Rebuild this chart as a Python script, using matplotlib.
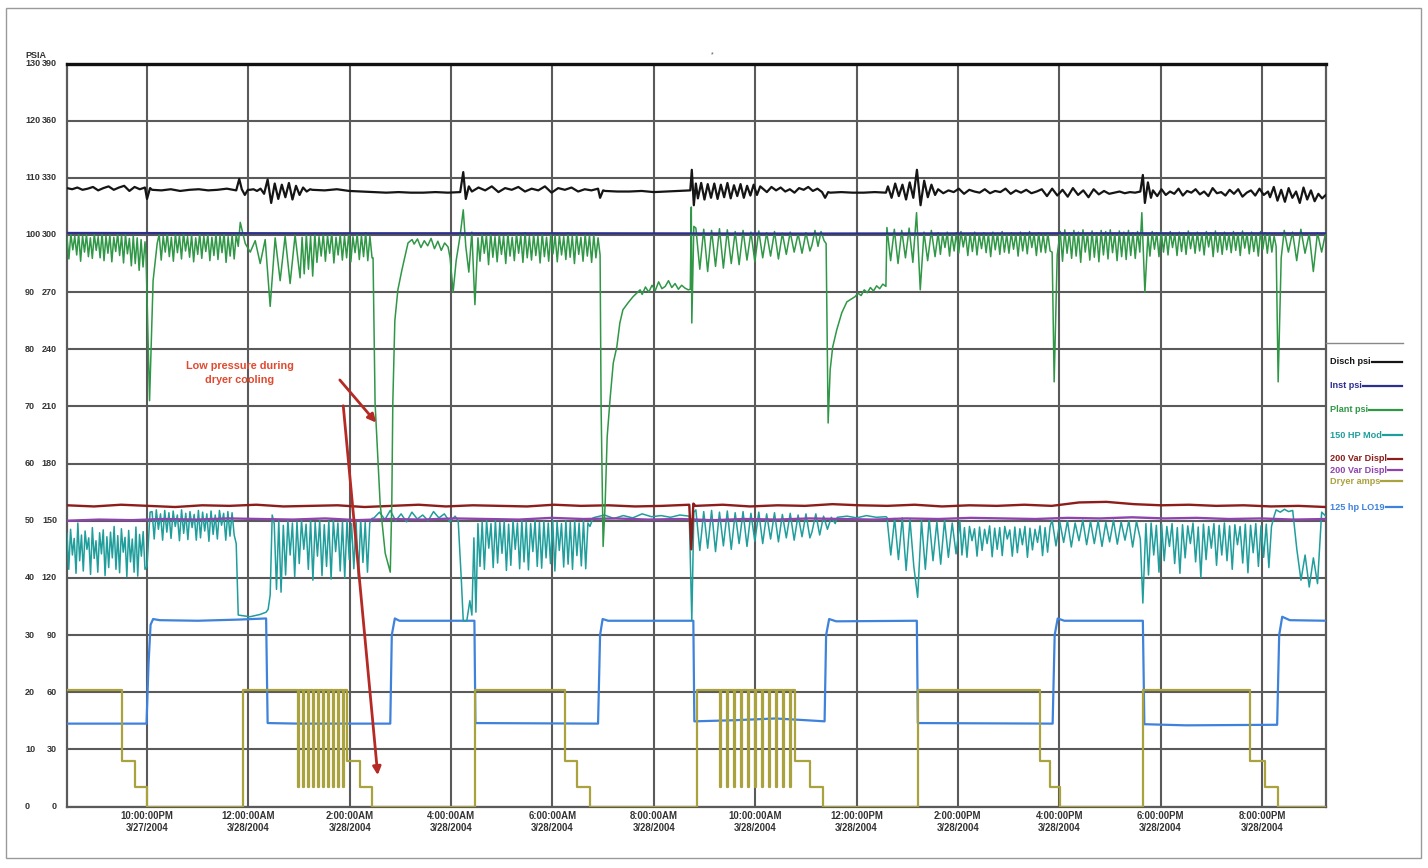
import numpy as np
import matplotlib
matplotlib.use("Agg")
import matplotlib.pyplot as plt
from matplotlib.transforms import blended_transform_factory
from matplotlib.patches import Rectangle
from matplotlib.lines import Line2D

plt.rcParams['font.family'] = ['Liberation Sans', 'DejaVu Sans']

# ---------------------------------------------------------------
# DATA  (time = hours after 8:00 PM 3/27/2004, values in psi / amps)
# a segment is either (t_start, t_end, [evenly sampled values])
# or ([times], [values]) for irregular points
# ---------------------------------------------------------------
x_ticks = [2, 4, 6, 8, 10, 12, 14, 16, 18, 20, 22, 24]
x_labels = ["10:00:00PM\n3/27/2004", "12:00:00AM\n3/28/2004", "2:00:00AM\n3/28/2004",
            "4:00:00AM\n3/28/2004", "6:00:00AM\n3/28/2004", "8:00:00AM\n3/28/2004",
            "10:00:00AM\n3/28/2004", "12:00:00PM\n3/28/2004", "2:00:00PM\n3/28/2004",
            "4:00:00PM\n3/28/2004", "6:00:00PM\n3/28/2004", "8:00:00PM\n3/28/2004"]
psi_ticks = [0, 10, 20, 30, 40, 50, 60, 70, 80, 90, 100, 110, 120, 130]
amp_ticks = [0, 30, 60, 90, 120, 150, 180, 210, 240, 270, 300, 330, 360, 390]

legend_names = ["Disch psi", "Inst psi", "Plant psi", "150 HP Mod",
                "200 Var Displ", "200 Var Displ", "Dryer amps", "125 hp LO19"]

disch_psi = [
    (0.42, 1.96, [108.2, 108.0, 108.3, 107.9, 108.1, 108.4, 107.8, 108.2, 108.5, 107.9,
                  108.3, 108.6, 107.7, 108.4, 108.0, 108.3]),
    ([2.00, 2.06], [106.3, 108.2]),
    (2.10, 3.76, [107.9, 107.8, 108.0, 107.7, 107.9, 108.0, 107.8, 107.9, 108.1, 107.8]),
    ([3.82, 3.87, 3.93, 3.99], [109.8, 108.0, 107.0, 107.9]),
    (4.03, 5.22, [107.9, 108.0, 107.7, 108.1, 107.2, 109.7, 105.6, 109.0, 106.3, 108.8,
                  106.6, 109.1, 106.2, 108.6, 107.0, 108.3, 107.6, 108.0]),
    (5.26, 8.18, [107.9, 107.8, 108.0, 107.7, 107.6, 107.5, 107.4, 107.5, 107.4, 107.4,
                  107.5, 107.4, 107.5]),
    ([8.24, 8.29, 8.35], [111.0, 106.3, 108.5]),
    (8.41, 10.90, [107.6, 108.3, 107.8, 108.5, 107.5, 108.2, 107.9, 108.4, 107.6, 108.1,
                   107.8, 108.5, 107.4, 108.2, 107.9, 108.3, 107.6, 108.0, 107.8, 108.1]),
    ([10.94, 11.00], [106.5, 107.8]),
    (11.04, 12.72, [107.7, 107.6, 107.6, 107.7, 107.5, 107.6, 107.7, 107.8]),
    ([12.75, 12.79, 12.83], [111.4, 105.2, 109.0]),
    (12.87, 14.10, [106.4, 109.1, 106.2, 108.9, 106.5, 109.0, 106.3, 108.8, 106.6, 109.1,
                    106.4, 108.7, 106.8, 108.9, 106.5, 108.6, 106.9, 108.8, 107.0, 108.5]),
    (14.14, 15.32, [108.2, 107.5, 108.4, 107.8, 108.3, 107.6, 108.0, 107.4, 108.2, 107.9,
                    108.4, 107.7, 108.1, 107.5]),
    ([15.38, 15.44], [106.5, 107.5]),
    (15.48, 16.58, [107.4, 107.5, 107.4, 107.4, 107.5, 107.4]),
    (16.62, 17.55, [108.5, 106.5, 109.0, 106.8, 108.8, 106.2, 109.2, 106.5, 111.4, 105.2,
                    109.5, 106.6, 108.8, 107.0]),
    (17.61, 21.60, [108.0, 107.3, 107.8, 107.5, 108.1, 107.2, 107.9, 107.6, 107.4, 108.0,
                    107.3, 107.7, 107.5, 108.1, 107.2, 107.8, 107.4, 107.9, 107.3, 107.6,
                    108.0, 106.8, 108.1, 106.9, 107.9, 106.7, 108.2, 107.0, 107.8, 106.6,
                    108.0, 107.1, 107.7, 107.2, 107.4, 107.6, 107.3, 107.5, 107.4, 107.6]),
    ([21.65, 21.69, 21.75, 21.81], [110.5, 105.6, 109.2, 106.5]),
    (21.85, 24.12, [107.8, 106.8, 108.0, 107.0, 107.6, 107.2, 108.1, 106.9, 107.7, 107.4,
                    108.0, 107.1, 107.6, 106.8, 108.2, 107.3, 107.5, 106.9, 107.9, 107.2,
                    108.0, 106.7, 107.4, 107.8, 106.9, 108.1, 107.0, 107.6]),
    (24.16, 25.26, [106.6, 108.4, 106.0, 107.9, 105.8, 108.2, 106.5, 107.6, 105.6, 108.3,
                    106.2, 107.8, 105.9, 107.2, 106.4, 107.0]),
]

inst_psi = [
    ([0.42, 5.0, 10.0, 15.0, 20.0, 25.26], [100.35, 100.3, 100.3, 100.25, 100.3, 100.3]),
]

plant_psi = [
    (0.42, 1.96, [99.6, 95.8, 100.2, 97.4, 99.8, 96.5, 100.3, 95.4, 99.9, 97.0, 100.1, 96.2,
                  99.5, 95.9, 100.2, 97.3, 99.7, 96.0, 100.4, 95.5, 99.8, 96.8, 100.0, 95.3,
                  99.6, 97.1, 100.3, 96.4, 99.9, 95.1, 100.1, 96.7, 99.4, 94.6, 99.8, 95.0,
                  99.5, 93.8, 99.2, 94.4, 98.8]),
    ([1.98, 2.05, 2.12, 2.20], [96.5, 71.0, 92.0, 98.5]),
    (2.24, 3.80, [100.1, 95.6, 99.8, 97.0, 100.3, 96.2, 99.6, 95.4, 100.2, 96.9, 99.9, 95.8,
                  100.4, 97.2, 99.7, 96.1, 100.0, 95.3, 99.5, 96.6, 100.3, 95.9, 99.8, 97.1,
                  100.1, 95.5, 99.6, 96.4, 100.2, 95.7, 99.9, 96.9, 100.4, 95.2, 99.7, 96.3,
                  100.0, 95.8, 100.1, 98.0]),
    (3.84, 5.02, [102.2, 98.5, 97.0, 99.0, 95.0, 99.2, 87.5, 99.5, 92.0, 99.8, 91.5, 100.0, 92.5]),
    (5.06, 6.44, [99.6, 93.2, 100.1, 94.0, 99.8, 92.8, 100.3, 95.2, 99.7, 96.3, 100.2, 95.4,
                  99.9, 96.8, 100.4, 95.1, 99.6, 96.5, 100.1, 95.6, 99.8, 96.0, 100.3, 95.3,
                  99.7, 96.9, 100.2, 95.7, 99.9, 96.2, 100.4, 95.5, 99.8, 96.0]),
    ([6.46, 6.50, 6.60, 6.70, 6.80, 6.83, 6.85, 6.89, 6.95, 7.03, 7.15, 7.23],
     [96.0, 70.6, 53.0, 44.3, 41.0, 53.0, 70.6, 85.0, 90.4, 93.9, 98.6, 99.2]),
    (7.27, 7.94, [98.4, 99.3, 97.8, 99.0, 98.1, 99.4, 97.6, 98.9, 97.3, 98.6, 97.9]),
    ([7.98, 8.04, 8.10, 8.18, 8.24, 8.29, 8.35, 8.41, 8.47, 8.53],
     [96.0, 90.0, 95.5, 100.0, 104.4, 98.0, 93.5, 100.5, 87.8, 99.5]),
    (8.57, 10.90, [95.4, 100.2, 96.8, 99.9, 94.8, 100.4, 96.1, 99.7, 95.3, 100.1, 96.6, 99.8,
                   95.0, 100.3, 96.3, 99.6, 95.5, 100.2, 96.8, 99.9, 95.2, 100.4, 96.0, 99.7,
                   95.6, 100.1, 96.4, 99.8, 95.1, 100.3, 96.2, 99.6, 95.4, 100.2, 96.7, 99.9,
                   95.3, 100.0, 96.5, 99.7, 95.7, 100.4, 96.1, 99.8, 95.0, 100.2, 96.6, 99.6,
                   95.4, 100.1, 96.3, 99.9, 95.2, 100.0, 96.0, 99.5]),
    ([10.94, 10.96, 11.00, 11.04, 11.08, 11.14, 11.20, 11.27, 11.33, 11.39, 11.49, 11.59, 11.73],
     [96.5, 70.0, 45.5, 53.0, 64.7, 71.6, 77.6, 80.4, 84.6, 86.9, 88.1, 89.2, 90.4]),
    (11.77, 12.68, [89.6, 90.9, 90.0, 91.2, 90.3, 91.8, 90.6, 91.0, 92.0, 90.8, 91.5, 90.5,
                    91.2, 90.7, 90.4]),
    ([12.72, 12.74, 12.75, 12.79], [90.5, 104.9, 84.6, 101.5]),
    (12.83, 15.08, [101.2, 94.0, 101.0, 93.6, 100.8, 94.5, 101.1, 94.2, 100.9, 95.0, 100.6, 94.8,
                    100.8, 95.6, 100.5, 95.3, 100.7, 96.0, 100.4, 96.3, 100.6, 95.8, 100.3, 96.6,
                    100.5, 97.0, 100.2, 96.8, 100.4, 97.2]),
    (15.12, 15.36, [98.2, 100.8, 98.0, 100.6, 99.0]),
    ([15.40, 15.44, 15.48, 15.53, 15.61, 15.71, 15.81, 15.97],
     [98.5, 67.1, 76.4, 80.4, 83.4, 86.4, 88.3, 89.2]),
    (16.03, 16.58, [89.8, 89.4, 90.4, 89.9, 90.8, 90.2, 91.1, 90.6, 91.4, 91.0]),
    (16.60, 17.55, [101.3, 95.5, 101.0, 95.0, 100.8, 96.0, 101.2, 95.2, 103.9, 90.4, 100.5,
                    95.5, 100.8, 96.2]),
    (17.61, 19.82, [100.4, 96.6, 100.2, 97.8, 100.5, 96.3, 100.1, 97.2, 100.4, 96.8, 100.6, 97.9,
                    100.2, 96.4, 100.3, 97.1, 100.5, 96.5, 100.1, 97.6, 100.4, 96.9, 100.2, 96.2,
                    100.5, 97.4, 100.3, 96.6, 100.6, 97.0, 100.1, 96.8, 100.4, 97.5, 100.2, 96.3,
                    100.5, 97.2, 100.3, 96.7, 100.6, 97.8, 100.2, 96.4, 100.4, 97.0, 100.1, 96.9,
                    100.3, 97.2]),
    ([19.86, 19.90, 19.96], [97.0, 74.3, 96.5]),
    (20.02, 21.59, [100.6, 95.4, 100.9, 96.8, 100.4, 95.9, 100.8, 96.3, 100.5, 95.2, 100.9, 97.0,
                    100.3, 95.6, 100.7, 96.1, 100.4, 95.3, 100.8, 96.5, 100.6, 95.8, 100.9, 96.9,
                    100.3, 95.5, 100.7, 96.2, 100.5, 95.7, 100.8, 96.4, 100.4, 95.9, 100.6, 97.0]),
    ([21.63, 21.69, 21.75], [103.9, 90.0, 100.0]),
    (21.79, 24.24, [96.3, 100.6, 97.5, 100.4, 96.2, 100.7, 97.0, 100.3, 96.5, 100.6, 97.8, 100.2,
                    96.4, 100.5, 97.1, 100.4, 96.6, 100.7, 97.6, 100.2, 96.8, 100.5, 97.2, 100.3,
                    96.5, 100.6, 97.9, 100.4, 96.2, 100.7, 97.0, 100.3, 96.6, 100.5, 97.4, 100.2,
                    96.9, 100.6, 97.3, 100.4, 96.4, 100.7, 97.7, 100.3, 96.7, 100.5, 97.1, 100.2,
                    96.3, 100.6, 97.5, 100.4, 96.8, 100.3, 97.0, 99.8]),
    ([24.28, 24.32, 24.38], [98.0, 74.3, 96.0]),
    (24.44, 25.26, [100.8, 97.0, 100.5, 95.5, 101.0, 96.8, 100.2, 93.6, 100.4, 97.0, 100.5]),
]

hp150_mod = [
    (0.42, 1.96, [47.8, 41.5, 48.5, 44.0, 46.9, 40.8, 49.6, 43.0, 47.5, 41.2, 48.2, 45.0, 47.0,
                  40.6, 48.8, 43.4, 46.5, 41.0, 47.9, 44.2, 48.4, 40.4, 47.2, 41.8, 48.0, 43.5,
                  49.0, 41.5, 47.4, 40.9, 48.6, 44.5, 47.1, 40.2, 48.3, 42.8, 46.8, 41.0, 48.9,
                  40.3, 47.6, 43.8, 48.1, 41.5]),
    ([2.00, 2.06], [42.0, 51.5]),
    (2.10, 3.72, [51.6, 46.8, 51.9, 48.5, 51.2, 46.6, 51.8, 48.0, 51.4, 46.9, 51.7, 49.0, 51.0,
                  46.5, 51.9, 47.8, 51.3, 46.7, 51.6, 48.8, 51.1, 46.6, 51.8, 47.0, 51.5, 48.2,
                  51.2, 46.4, 51.7, 47.6, 51.0, 46.8, 51.8, 49.2, 51.3, 46.6, 51.6, 47.3, 51.4,
                  47.5]),
    ([3.76, 3.80, 4.03, 4.23, 4.35, 4.39, 4.43, 4.47], [46.0, 33.5, 33.2, 33.6, 34.0, 34.5, 37.0, 51.0]),
    (4.51, 6.44, [49.5, 38.0, 50.0, 37.5, 49.2, 40.5, 50.1, 44.0, 49.6, 40.2, 49.8, 42.5, 50.0,
                  45.0, 49.4, 41.5, 50.1, 39.6, 49.7, 43.8, 50.0, 40.4, 49.3, 42.0, 49.9, 39.8,
                  50.1, 44.6, 49.6, 41.2, 49.8, 40.0, 50.0, 43.2, 49.5, 41.6, 49.9, 39.9, 50.2,
                  42.7, 49.7, 41.0, 49.6, 50.4]),
    (6.48, 8.08, [50.5, 51.5, 50.2, 51.8, 50.0, 51.2, 49.8, 51.5, 50.3, 51.0, 50.0, 51.6, 50.5,
                  51.2, 49.8, 50.8]),
    ([8.14, 8.20, 8.24, 8.31, 8.37, 8.41, 8.45, 8.49, 8.53],
     [50.0, 40.0, 32.5, 32.5, 36.0, 33.5, 47.0, 34.0, 49.5]),
    (8.57, 10.70, [42.0, 49.8, 41.5, 50.0, 45.2, 49.5, 41.8, 50.1, 42.6, 49.7, 44.3, 49.9, 41.3,
                   49.4, 42.2, 50.0, 45.0, 49.6, 41.6, 50.1, 42.8, 49.8, 41.4, 49.5, 44.6, 50.0,
                   42.0, 49.7, 41.7, 49.9, 43.5, 49.6, 42.5, 50.1, 41.2, 49.8, 44.8, 49.5, 41.9,
                   50.0, 42.4, 49.7, 41.5, 49.9, 43.9, 49.6, 42.1, 50.0, 41.6, 49.6]),
    ([10.74, 10.80], [49.0, 50.5]),
    (10.84, 12.70, [50.6, 51.0, 50.4, 50.9, 50.5, 51.2, 50.7, 50.9, 50.6, 51.0, 50.8]),
    ([12.75, 12.79], [32.5, 51.5]),
    (12.83, 15.08, [51.9, 44.8, 51.6, 45.2, 51.8, 44.6, 51.5, 45.6, 51.7, 45.0, 51.4, 46.0, 51.6,
                    45.5, 51.3, 46.4, 51.5, 46.0, 51.2, 46.8, 51.4, 46.3, 51.1, 47.0, 51.3, 46.6,
                    51.0, 47.2, 51.2, 47.0]),
    (15.12, 15.58, [48.0, 51.2, 47.5, 50.8, 48.5, 50.6, 49.5]),
    (15.62, 16.58, [50.6, 50.8, 50.5, 50.9, 50.6, 50.7]),
    (16.60, 18.04, [50.6, 44.0, 50.4, 43.2, 50.5, 41.3, 50.2, 42.0, 36.6, 50.0, 41.5, 50.3, 43.0,
                    49.8, 42.4, 50.1, 43.6, 49.6, 44.2, 49.9]),
    (18.08, 19.82, [44.0, 48.8, 43.6, 49.0, 46.5, 48.6, 43.8, 48.9, 44.8, 48.5, 46.0, 49.1, 43.7,
                    48.7, 45.0, 48.8, 43.9, 49.0, 46.8, 48.4, 43.8, 48.9, 44.4, 48.6, 45.8, 49.0,
                    43.6, 48.7, 44.9, 48.5, 46.2, 49.1, 43.9, 48.8, 44.5, 49.0]),
    (19.86, 21.60, [50.1, 45.6, 49.8, 46.2, 50.0, 45.4, 49.6, 46.5, 50.1, 45.8, 49.9, 46.0, 50.0,
                    45.5, 49.7, 46.3, 50.1, 45.9, 49.8, 46.6, 50.0, 45.4, 49.9, 46.8]),
    ([21.65], [35.6]),
    (21.71, 24.24, [49.5, 40.5, 49.6, 44.0, 49.2, 41.0, 49.4, 43.0, 49.0, 45.5, 49.5, 42.5, 48.8,
                    40.8, 49.3, 43.5, 49.1, 46.0, 49.6, 42.8, 48.9, 40.1, 49.4, 43.2, 49.0, 45.2,
                    49.5, 42.2, 49.2, 44.0, 49.6, 43.0, 49.1, 41.5, 49.3, 45.8, 49.0, 42.6, 49.4,
                    40.9, 49.2, 44.4, 49.5, 42.0, 49.1, 43.6, 49.4, 41.8, 49.0, 50.8]),
    (24.28, 25.26, [51.9, 51.5, 52.0, 51.6, 51.8, 45.0, 39.6, 44.0, 38.4, 43.5, 39.0, 51.5, 50.8]),
]

var_displ_red = [
    (0.42, 12.70, [52.7, 52.5, 52.8, 52.6, 52.4, 52.7, 52.6, 52.8, 52.5, 52.6, 52.7, 52.4, 52.6,
                   52.8, 52.5, 52.7, 52.6, 52.5, 52.8, 52.6, 52.7, 52.5, 52.6, 52.8]),
    ([12.74, 12.78], [45.0, 53.0]),
    (12.82, 25.26, [52.6, 52.8, 52.5, 52.7, 52.6, 52.9, 52.7, 52.6, 52.8, 52.5, 52.7, 52.6, 52.8,
                    52.6, 53.2, 53.3, 52.9, 52.7, 52.8, 52.6, 52.7, 52.5, 52.6, 52.4]),
]

var_displ_purple = [
    (0.42, 25.26, [50.0, 50.2, 50.1, 50.3, 50.2, 50.4, 50.3, 50.2, 50.4, 50.1, 50.3, 50.2, 50.4,
                   50.3, 50.2, 50.5, 50.3, 50.4, 50.2, 50.3, 50.1, 50.3, 50.2, 50.4, 50.3, 50.2,
                   50.4, 50.3, 50.5, 50.4, 50.3, 50.5, 50.4, 50.6, 50.4, 50.5, 50.3, 50.4, 50.2, 50.3]),
]

# Dryer amps (right-hand scale, step signal)
dryer_t = [0.42, 1.51, 1.76, 2.00, 3.90, 4.98, 5.00, 5.08, 5.10, 5.18, 5.20, 5.28, 5.30, 5.37,
           5.39, 5.47, 5.49, 5.57, 5.59, 5.67, 5.69, 5.77, 5.79, 5.87, 5.89, 5.95, 6.20, 6.44,
           8.47, 10.25, 10.49, 10.74, 12.85, 13.31, 13.33, 13.44, 13.46, 13.58, 13.60, 13.72,
           13.74, 13.86, 13.88, 14.00, 14.02, 14.14, 14.16, 14.27, 14.29, 14.41, 14.43, 14.55,
           14.57, 14.69, 14.71, 14.79, 15.08, 15.34, 17.21, 19.62, 19.82, 20.02, 21.65, 23.76,
           24.06, 24.32, 25.26]
dryer_amps = [61, 24, 10, 0, 61, 10, 61, 10, 61, 10, 61, 10, 61, 10,
              61, 10, 61, 10, 61, 10, 61, 10, 61, 10, 61, 24, 10, 0,
              61, 24, 10, 0, 61, 10, 61, 10, 61, 10, 61, 10,
              61, 10, 61, 10, 61, 10, 61, 10, 61, 10, 61, 10,
              61, 10, 61, 24, 10, 0, 61, 24, 10, 0, 61, 24,
              10, 0, 0]

hp125_t = [0.42, 1.99, 2.03, 2.07, 2.12, 2.25, 3.00, 3.80, 4.35, 4.38, 5.00, 6.00, 6.80, 6.83,
           6.89, 6.98, 8.46, 8.48, 10.90, 10.94, 10.99, 11.10, 12.78, 12.80, 13.60, 14.40, 15.00,
           15.37, 15.40, 15.46, 15.60, 17.19, 17.21, 19.87, 19.91, 19.97, 20.10, 21.65, 21.68,
           22.50, 24.30, 24.34, 24.40, 24.55, 25.26]
hp125_v = [14.5, 14.5, 25.0, 31.8, 32.8, 32.6, 32.5, 32.7, 32.9, 14.6, 14.5, 14.5, 14.5, 30.0,
           32.9, 32.5, 32.5, 14.6, 14.5, 30.0, 32.8, 32.5, 32.5, 14.9, 15.1, 15.4, 15.1,
           14.9, 30.0, 32.8, 32.4, 32.5, 14.6, 14.5, 30.0, 32.9, 32.5, 32.5, 14.4,
           14.2, 14.3, 30.0, 33.2, 32.6, 32.5]


def build(segments):
    ts, vs = [], []
    for seg in segments:
        if len(seg) == 3:
            t0, t1, vals = seg
            ts.append(np.linspace(t0, t1, len(vals)))
            vs.append(np.asarray(vals, float))
        else:
            tt, vals = seg
            ts.append(np.asarray(tt, float))
            vs.append(np.asarray(vals, float))
    return np.concatenate(ts), np.concatenate(vs)


W, H = 1428, 868
fig = plt.figure(figsize=(W / 100, H / 100), dpi=100)
fig.patch.set_facecolor('white')
ax_l, ax_r, ax_t, ax_b = 67, 1326, 63.5, 806.5
ax = fig.add_axes([ax_l / W, 1 - ax_b / H, (ax_r - ax_l) / W, (ax_b - ax_t) / H])
ax.set_xlim(0.421, 25.264)
ax.set_ylim(0, 130)
ax2 = ax.twinx()
ax2.set_ylim(0, 390)
ax2.axis('off')

# grid
ax.set_yticks(psi_ticks)
ax.set_xticks(x_ticks)
ax.grid(True, color='#5a5a5a', lw=1.5, zorder=0)
ax.set_axisbelow(True)
ax.tick_params(length=0)
ax.set_yticklabels([])
ax.set_xticklabels(x_labels, fontsize=6.9, fontweight='bold', color='#333333', linespacing=1.35)
ax.tick_params(axis='x', pad=3)
for s in ['left', 'bottom', 'right']:
    ax.spines[s].set_color('#5a5a5a')
    ax.spines[s].set_linewidth(1.6)
ax.spines['top'].set_color('#111111')
ax.spines['top'].set_linewidth(2.4)

colors = {
    'disch': '#151515', 'inst': '#2b2f8f', 'plant': '#2f9746', 'hp150': '#1f9e9c',
    'red': '#8c1d1a', 'purple': '#8e44ad', 'dryer': '#a9a23e', 'hp125': '#3f82dc',
}

# dryer on amps scale
ax2.plot(dryer_t, dryer_amps, drawstyle='steps-post', color=colors['dryer'], lw=1.6, zorder=2)
ax.plot(hp125_t, hp125_v, color=colors['hp125'], lw=1.6, zorder=3)
t, v = build(hp150_mod)
ax.plot(t, v, color=colors['hp150'], lw=1.1, zorder=4)
t, v = build(var_displ_purple)
ax.plot(t, v, color=colors['purple'], lw=1.7, zorder=5)
t, v = build(var_displ_red)
ax.plot(t, v, color=colors['red'], lw=1.7, zorder=6)
t, v = build(plant_psi)
ax.plot(t, v, color=colors['plant'], lw=1.1, zorder=7)
t, v = build(inst_psi)
ax.plot(t, v, color=colors['inst'], lw=1.6, zorder=8)
t, v = build(disch_psi)
ax.plot(t, v, color=colors['disch'], lw=1.6, zorder=9)

# y tick labels (two columns: psi and x3 scale)
tr = blended_transform_factory(fig.transFigure, ax.transData)
for p, a in zip(psi_ticks, amp_ticks):
    ax.text(25 / W, p, str(p), transform=tr, ha='left', va='center', fontsize=6.5,
            fontweight='bold', color='#333333', clip_on=False)
    ax.text(57 / W, p, str(a), transform=tr, ha='right', va='center', fontsize=6.5,
            fontweight='bold', color='#333333', clip_on=False)
fig.text(25 / W, 1 - 55 / H, "PSIA", ha='left', va='center', fontsize=6.5,
         fontweight='bold', color='#333333')
fig.text(712 / W, 1 - 55 / H, "*", ha='center', va='center', fontsize=5, color='#555555')

# annotation
ax.text(3.835, 75.8, "Low pressure during\ndryer cooling", ha='center', va='center',
        fontsize=7.8, fontweight='bold', color='#e04a30', linespacing=1.55, zorder=12)
ax.annotate('', xy=(6.558, 66.8), xytext=(5.769, 75.0),
            arrowprops=dict(arrowstyle='-|>', color='#b52a25', lw=2.0, mutation_scale=12),
            zorder=12)
ax.annotate('', xy=(6.558, 5.0), xytext=(5.867, 70.6),
            arrowprops=dict(arrowstyle='-|>', color='#b52a25', lw=2.0, mutation_scale=12),
            zorder=12)

# legend on the right
leg_colors = [colors['disch'], colors['inst'], colors['plant'], colors['hp150'],
              colors['red'], colors['purple'], colors['dryer'], colors['hp125']]
leg_y = [362, 386, 410, 435, 459, 470, 481, 507]
fig.add_artist(Line2D([1326 / W, 1403 / W], [1 - 343 / H, 1 - 343 / H], color='#888888', lw=1.0))
texts = []
for name, c, yy in zip(legend_names, leg_colors, leg_y):
    texts.append(fig.text(1330 / W, 1 - yy / H, name, ha='left', va='center', fontsize=6.6,
                          fontweight='bold', color=c))
fig.canvas.draw()
r = fig.canvas.get_renderer()
for tx, c, yy in zip(texts, leg_colors, leg_y):
    bb = tx.get_window_extent(r)
    x0 = (bb.x1 + 1) / W
    fig.add_artist(Line2D([x0, 1402 / W], [1 - yy / H, 1 - yy / H], color=c, lw=1.6))

# outer frame
fig.add_artist(Rectangle((6 / W, 1 - 858 / H), (1421 - 6) / W, (858 - 8) / H,
                         transform=fig.transFigure, fill=False, edgecolor='#9a9a9a', lw=1.0))

fig.savefig('out.png', dpi=100, facecolor='white')
